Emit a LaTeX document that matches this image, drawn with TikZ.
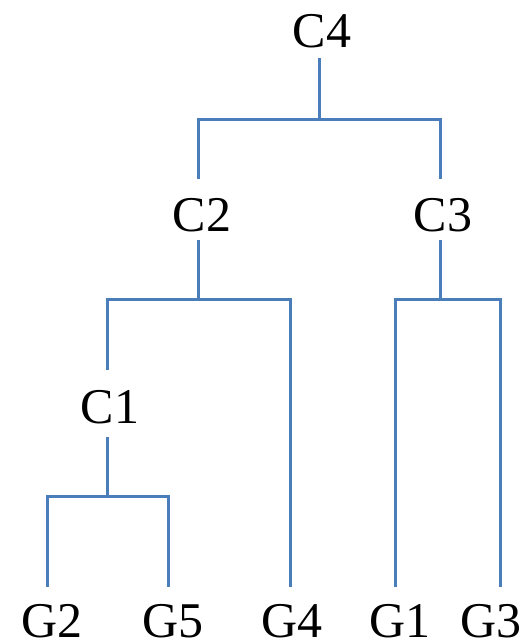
\documentclass[tikz,border=0pt]{standalone}
\usepackage{fontspec}
\setmainfont{Liberation Serif}
\definecolor{linkblue}{RGB}{74,126,187}
\begin{document}
\begin{tikzpicture}[x=1pt,y=-1pt,
  lab/.style={font=\fontsize{50}{50}\selectfont, inner sep=0pt, anchor=base},
  link/.style={draw=linkblue, line width=3pt}]
\useasboundingbox (0,0) rectangle (530,643);
% labels
\node[lab] (C4) at (322,47) {C4};
\node[lab] (C2) at (202,231) {C2};
\node[lab] (C3) at (443,231) {C3};
\node[lab] (C1) at (110,423) {C1};
\node[lab] (G2) at (52,637) {G2};
\node[lab] (G5) at (173,637) {G5};
\node[lab] (G4) at (292,637) {G4};
\node[lab] (G1) at (400,637) {G1};
\node[lab] (G3) at (491,637) {G3};
% connector ends
\coordinate (C4b) at (319,58);
\coordinate (C2t) at (198,179);
\coordinate (C2b) at (198,240);
\coordinate (C3t) at (440,179);
\coordinate (C3b) at (440,240);
\coordinate (C1t) at (107,370);
\coordinate (C1b) at (107,437);
\coordinate (G2t) at (47,587);
\coordinate (G5t) at (168,587);
\coordinate (G4t) at (290,587);
\coordinate (G1t) at (395,587);
\coordinate (G3t) at (500,587);
% C4
\draw[link] (C4b) -- (319,119);
\draw[link] (C2t) |- (C3t |- 0,119) -- (C3t);
% C2
\draw[link] (C2b) -- (198,299);
\draw[link] (C1t) |- (G4t |- 0,299) -- (G4t);
% C3
\draw[link] (C3b) -- (440,299);
\draw[link] (G1t) |- (G3t |- 0,299) -- (G3t);
% C1
\draw[link] (C1b) -- (107,496);
\draw[link] (G2t) |- (G5t |- 0,496) -- (G5t);
\end{tikzpicture}
\end{document}
